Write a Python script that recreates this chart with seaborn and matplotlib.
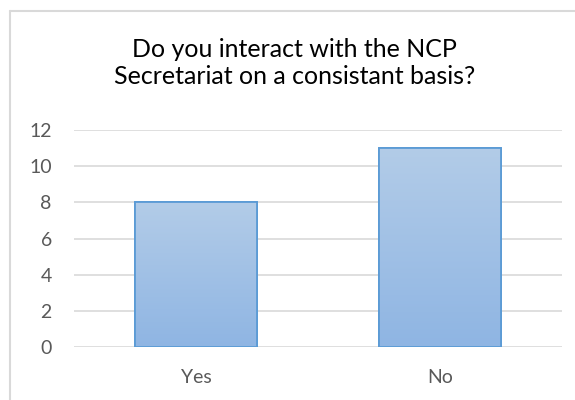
import numpy as np
import pandas as pd
import matplotlib
matplotlib.use("Agg")
import matplotlib.pyplot as plt
from matplotlib.patches import Rectangle
from matplotlib.lines import Line2D
import seaborn as sns

categories = ["Yes", "No"]
counts = [8, 11]
y_ticks = [0, 2, 4, 6, 8, 10, 12]
title = "Do you interact with the NCP\nSecretariat on a consistant basis?"

sns.set_theme(style="white")
plt.rcParams["font.family"] = ["Lato", "DejaVu Sans"]

df = pd.DataFrame({"answer": categories, "count": counts})

fig = plt.figure(figsize=(5.75, 4.0), dpi=100)
ax = fig.add_axes([74 / 575, 1 - 347 / 400, (562 - 74) / 575, (347 - 130) / 400])

sns.barplot(data=df, x="answer", y="count", ax=ax, width=0.5,
            color="#9dbde6", edgecolor="#5b9bd5", linewidth=1.3, saturation=1)

# vertical gradient fill inside each bar
grad = np.linspace(0, 1, 256).reshape(-1, 1)
top = np.array([0.70, 0.80, 0.91])
bottom = np.array([0.56, 0.71, 0.89])
img = top + (bottom - top) * grad[..., None]
img = img.reshape(256, 1, 3)
for bar in ax.patches:
    x0, y0 = bar.get_x(), bar.get_y()
    w, h = bar.get_width(), bar.get_height()
    im = ax.imshow(img, extent=[x0, x0 + w, y0, y0 + h], aspect="auto",
                   origin="upper", zorder=bar.get_zorder() + 0.1)
    im.set_clip_path(bar)
    edge = Rectangle((x0, y0), w, h, fill=False, edgecolor="#5b9bd5",
                     linewidth=1.3, zorder=bar.get_zorder() + 0.2)
    ax.add_patch(edge)

ax.set_xlim(-0.5, 1.5)
ax.set_ylim(0, 12)
ax.set_yticks(y_ticks)
ax.yaxis.grid(True, color="#d9d9d9", linewidth=1.2)
ax.set_axisbelow(True)
for s in ax.spines.values():
    s.set_visible(False)
ax.set_xlabel("")
ax.set_ylabel("")
ax.tick_params(axis="both", length=0, labelsize=14, labelcolor="#595959")
ax.tick_params(axis="y", pad=16)
ax.tick_params(axis="x", pad=16)

fig.text(294.5 / 575, 1 - 63 / 400, title, ha="center", va="center",
         fontsize=18, color="#000000", linespacing=1.24)

# chart area border (top and left edges visible)
border = dict(transform=fig.transFigure, color="#d9d9d9", linewidth=1.5)
fig.add_artist(Line2D([10 / 575, 1.0], [1 - 11 / 400, 1 - 11 / 400], **border))
fig.add_artist(Line2D([10 / 575, 10 / 575], [0.0, 1 - 11 / 400], **border))

fig.savefig("out.png", dpi=100, facecolor="white")
